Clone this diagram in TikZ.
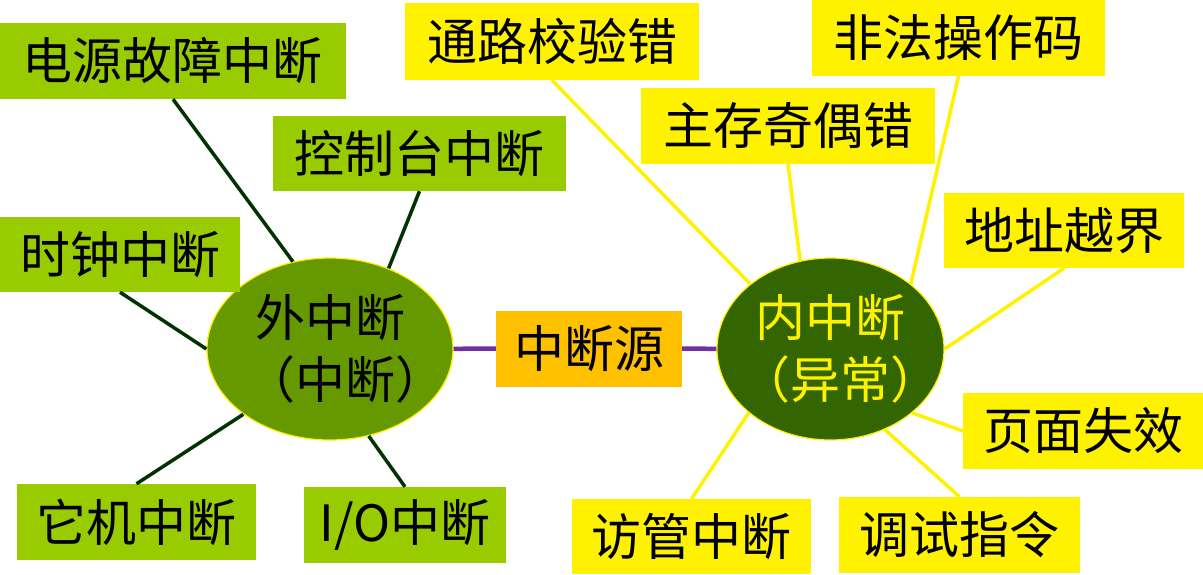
\documentclass[tikz,border=0pt]{standalone}
\usepackage{fontspec}
\newfontfamily\cjk{Noto Sans CJK SC}
\usepackage{tikz}
\usetikzlibrary{shapes.geometric}
\definecolor{grasgruen}{HTML}{99CC00}
\definecolor{blattgruen}{HTML}{669900}
\definecolor{tiefgruen}{HTML}{336600}
\definecolor{strichgruen}{HTML}{003300}
\definecolor{orangegelb}{HTML}{FFC000}
\definecolor{lila}{HTML}{7030A0}
\tikzset{
	quelle/.style={inner sep=0pt, font=\cjk\fontsize{50}{62}\selectfont},
	aussen/.style={quelle, fill=grasgruen},
	innen/.style={quelle, fill=yellow},
	oval/.style={ellipse, draw=yellow, line width=1.2pt, inner sep=0pt, minimum height=182pt},
	aussenlinie/.style={draw=strichgruen, line width=3.5pt},
	innenlinie/.style={draw=yellow, line width=3.5pt}
}

\begin{document}
\begin{tikzpicture}[x=1pt,y=-1pt]
		%%Location
		\useasboundingbox (0,0) rectangle (1203,574);
		%%Centre
		\draw (589,348.5) node [quelle, fill=orangegelb, minimum width=186pt, minimum height=76pt] (quell) {中断源};
		\draw (330,349) node [oval, fill=blattgruen, minimum width=246pt] (aus) {};
		\draw (aus.center) node [quelle, align=center] (austext) {外中断\\\hspace*{0.6em}（中断）};
		\draw (830.5,349) node [oval, fill=tiefgruen, minimum width=227pt] (ein) {};
		\draw (ein.center) node [quelle, text=yellow, align=center] (eintext) {内中断\\\hspace*{0.4em}（异常）};
		\draw[lila, line width=4.5pt] (aus) -- (quell);
		\draw[lila, line width=4.5pt] (quell) -- (ein);
		
		%%External
		\draw (173,61) node [aussen, minimum width=346pt, minimum height=76pt] (strom) {电源故障中断};
		\draw (419.5,153.5) node [aussen, minimum width=293pt, minimum height=75pt] (konsole) {控制台中断};
		\draw (120,254.5) node [aussen, minimum width=240pt, minimum height=75pt] (uhr) {时钟中断};
		\draw (136.5,522) node [aussen, minimum width=239pt, minimum height=76pt] (fremd) {它机中断};
		\draw (405,525) node [aussen, minimum width=202pt, minimum height=76pt] (eaus) {I/O中断};
		
		\draw[aussenlinie] (strom.south) -- (aus.113);
		\draw[aussenlinie] (konsole.south) -- (aus.54);
		\draw[aussenlinie] (uhr.south) -- (aus.180);
		\draw[aussenlinie] (fremd.north) -- (aus.217);
		\draw[aussenlinie] (eaus.north) -- (aus.294);
		
		%%Internal
		\draw (552,41.5) node [innen, minimum width=294pt, minimum height=77pt] (pfad) {通路校验错};
		\draw (958.5,38) node [innen, minimum width=293pt, minimum height=76pt] (befehl) {非法操作码};
		\draw (788,126) node [innen, minimum width=294pt, minimum height=76pt] (paritaet) {主存奇偶错};
		\draw (1064,230.5) node [innen, minimum width=240pt, minimum height=75pt] (adresse) {地址越界};
		\draw (1083,431) node [innen, minimum width=240pt, minimum height=76pt] (seite) {页面失效};
		\draw (691.5,536.5) node [innen, minimum width=239pt, minimum height=75pt] (aufruf) {访管中断};
		\draw (959.5,535) node [innen, minimum width=241pt, minimum height=76pt] (debug) {调试指令};
		
		\draw[innenlinie] (pfad.south) -- (ein.141);
		\draw[innenlinie] (paritaet.south) -- (ein.109);
		\draw[innenlinie] (befehl.south) -- (ein.39);
		\draw[innenlinie] (adresse.south) -- (ein.0);
		\draw[innenlinie] (seite.west) -- (ein.322);
		\draw[innenlinie] (debug.north) -- (ein.304);
		\draw[innenlinie] (aufruf.north) -- (ein.218);
\end{tikzpicture}
\end{document}
